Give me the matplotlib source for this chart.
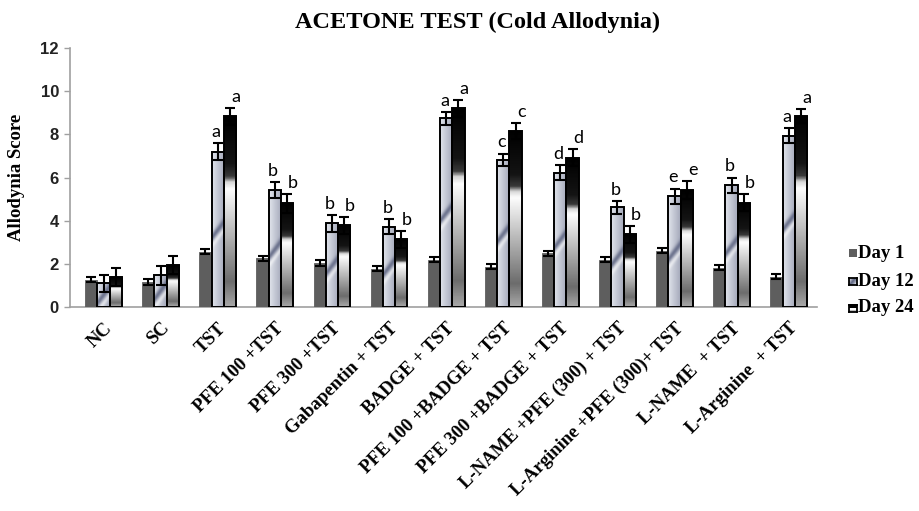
import numpy as np
import matplotlib.pyplot as plt
from matplotlib.colors import LinearSegmentedColormap, to_rgb

# ---- data ----
groups = ['NC', 'SC', 'TST', 'PFE 100 +TST', 'PFE 300 +TST', 'Gabapentin + TST',
          'BADGE + TST', 'PFE 100 +BADGE + TST', 'PFE 300 +BADGE + TST',
          'L-NAME +PFE (300) + TST', 'L-Arginine +PFE (300)+ TST',
          'L-NAME  + TST', 'L-Arginine  + TST']
day1 = [1.27, 1.16, 2.56, 2.25, 2.04, 1.78, 2.20, 1.86, 2.48, 2.20, 2.60, 1.83, 1.40]
day12 = [1.10, 1.47, 7.20, 5.42, 3.87, 3.72, 8.75, 6.81, 6.22, 4.62, 5.14, 5.65, 7.93]
day24 = [1.37, 1.94, 8.83, 4.80, 3.79, 3.13, 9.21, 8.16, 6.92, 3.36, 5.42, 4.83, 8.86]
err1 = [0.12, 0.12, 0.12, 0.12, 0.12, 0.12, 0.12, 0.12, 0.12, 0.12, 0.12, 0.12, 0.12]
err12 = [0.40, 0.45, 0.38, 0.38, 0.40, 0.35, 0.30, 0.30, 0.35, 0.30, 0.35, 0.35, 0.35]
err24 = [0.42, 0.40, 0.38, 0.45, 0.40, 0.40, 0.40, 0.38, 0.40, 0.40, 0.40, 0.40, 0.33]
let1 = ['', '', '', '', 'b', '', '', '', '', '', '', '', '']
let12 = ['', '', 'a', 'b', 'b', 'b', 'a', 'c', 'd', 'b', 'e', 'b', 'a']
let24 = ['', '', 'a', 'b', 'b', 'b', 'a', 'c', 'd', 'b', 'e', 'b', 'a']
series_names = ['Day 1', 'Day 12', 'Day 24']

SERIF = 'Liberation Serif'
W, H, DPI = 919, 511, 100
fig = plt.figure(figsize=(W / DPI, H / DPI), dpi=DPI)
ax = fig.add_axes([70 / W, 1 - 307 / H, 747 / W, 259 / H])
XLIM = (-0.587, 12.495)
YLIM = (0, 12)
px_per_x = 747 / (XLIM[1] - XLIM[0])
px_per_y = 259 / (YLIM[1] - YLIM[0])

cmap24 = LinearSegmentedColormap.from_list('d24', [
    (0.0, '#a8a8a8'), (0.13, '#6c6c6c'), (0.62, '#fdfdfd'), (0.655, '#d8d8d8'),
    (0.685, '#3a3a3a'), (0.75, '#141414'), (1.0, '#000000')])


def grad24(wpx, hpx):
    ny = max(int(hpx), 4)
    yf = np.linspace(0, 1, ny)[:, None] * np.ones((1, max(int(wpx), 2)))
    return cmap24(yf)[..., :3]


def grad12(wpx, hpx):
    nx, ny = max(int(wpx), 2), max(int(hpx), 4)
    px = np.arange(nx)[None, :] + 0.5
    py = np.arange(ny)[:, None] + 0.5
    xf = px / nx
    c0, c1 = np.array(to_rgb('#e2e5ec')), np.array(to_rgb('#a2a7b9'))
    base = c0 * (1 - xf[..., None]) + c1 * xf[..., None]
    base = np.broadcast_to(base, (ny, nx, 3)).copy()
    d = (px - nx / 2) - 0.7 * (py - 0.5 * ny)
    dark = 0.9 * np.exp(-(d / 3.0) ** 2)[..., None]
    hl = 0.6 * np.exp(-((d - 5.5) / 2.5) ** 2)[..., None]
    img = base * (1 - hl) + hl
    img = img * (1 - dark) + np.array(to_rgb('#636a86')) * dark
    return img


x = np.arange(len(groups))
bw = 0.215
offs = [-bw, 0, bw]

ax.bar(x + offs[0], day1, width=bw, color='#5e5e5e', edgecolor='#5e5e5e',
       linewidth=0.6, zorder=3)
for vals, off, fn in [(day12, offs[1], grad12), (day24, offs[2], grad24)]:
    bars = ax.bar(x + off, vals, width=bw, facecolor='none', edgecolor='black',
                  linewidth=1.4, zorder=4)
    for rect, v in zip(bars, vals):
        x0 = rect.get_x()
        img = fn(bw * px_per_x, v * px_per_y)
        im = ax.imshow(img, extent=[x0, x0 + bw, 0, v], origin='lower',
                       aspect='auto', zorder=3, interpolation='bilinear')
        im.set_clip_path(rect)

for vals, errs, off in [(day1, err1, offs[0]), (day12, err12, offs[1]),
                        (day24, err24, offs[2])]:
    ax.errorbar(x + off, vals, yerr=errs, fmt='none', ecolor='black',
                elinewidth=1.5, capsize=3.3, capthick=1.5, zorder=5)

# significance letters
for i in range(len(groups)):
    if let1[i]:
        ax.text(x[i] + offs[0] + 0.07, day1[i] - 0.85, let1[i], fontsize=13,
                family='Lato', ha='center', va='baseline', zorder=2.5)
    if let12[i]:
        ax.text(x[i] + offs[1] - 0.03, day12[i] + err12[i] + 0.28, let12[i],
                fontsize=13, family='Lato', ha='center', va='baseline', zorder=6)
    if let24[i]:
        ax.text(x[i] + offs[2] + 0.1, day24[i] + err24[i] + 0.28, let24[i],
                fontsize=13, family='Lato', ha='center', va='baseline', zorder=6)

ax.set_xlim(*XLIM)
ax.set_ylim(*YLIM)
ax.set_yticks(np.arange(0, 13, 2))
ax.set_xticks(x)
ax.set_xticklabels(groups, rotation=45, ha='right', rotation_mode='anchor',
                   family=SERIF, fontweight='bold', fontsize=13.5)
ax.tick_params(axis='x', length=0, pad=9)
ax.tick_params(axis='y', length=4, color='#a0a0a0', width=1, pad=4)
for lab in ax.get_yticklabels():
    lab.set_family('Liberation Sans')
    lab.set_fontweight('bold')
    lab.set_fontsize(12)
    lab.set_color('#222222')
for s in ['top', 'right']:
    ax.spines[s].set_visible(False)
for s in ['left', 'bottom']:
    ax.spines[s].set_color('#a0a0a0')
    ax.spines[s].set_linewidth(1.2)

fig.text(478 / W, 1 - 22 / H, 'ACETONE TEST (Cold Allodynia)', family=SERIF,
         fontweight='bold', fontsize=17.5, ha='center', va='center')
fig.text(17 / W, 1 - 177 / H, 'Allodynia Score', family=SERIF, fontweight='bold',
         fontsize=13.5, rotation=90, ha='center', va='center')

# legend drawn by hand
leg_y = [253, 281, 308]
for name, yy, k in zip(series_names, leg_y, range(3)):
    iax = fig.add_axes([849 / W, 1 - (yy + 4) / H, 7.5 / W, 7.5 / H])
    iax.set_xticks([])
    iax.set_yticks([])
    if k == 0:
        iax.set_facecolor('#5e5e5e')
        for s in iax.spines.values():
            s.set_visible(False)
    else:
        if k == 1:
            img = grad12(8, 8)
            yy_, xx_ = np.mgrid[0:8, 0:8]
            dd = xx_ - yy_
            img = img.copy()
            img[np.abs(dd) <= 0.5] = to_rgb('#656c88')
        else:
            img = np.ones((8, 8, 3))
            img[4:] = 0.0
            img[:2] = 0.75
        iax.imshow(img, origin='lower', aspect='auto', interpolation='nearest')
        for s in iax.spines.values():
            s.set_color('black')
            s.set_linewidth(1.3)
    fig.text(858 / W, 1 - yy / H, name, family=SERIF, fontweight='bold',
             fontsize=13.5, ha='left', va='center')

fig.savefig('out.png', dpi=DPI)
